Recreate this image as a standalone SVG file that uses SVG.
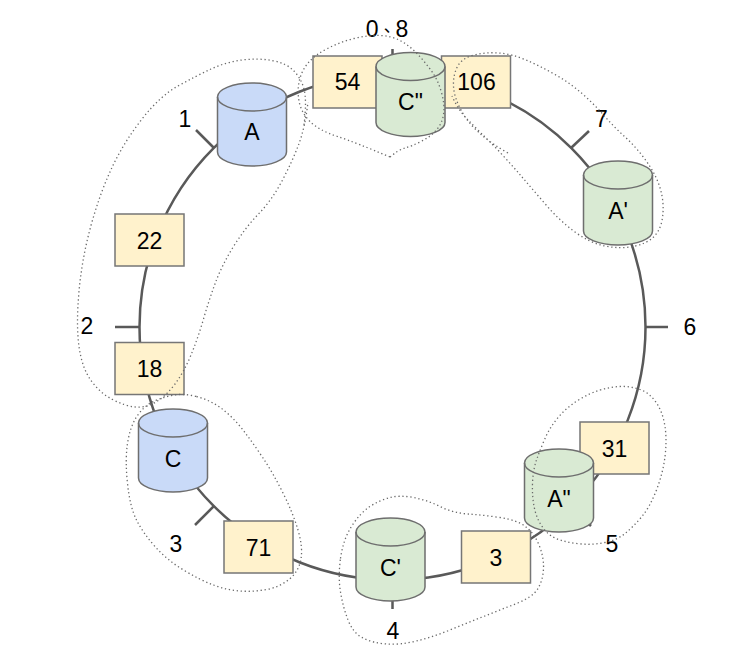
<svg xmlns="http://www.w3.org/2000/svg" width="750" height="658" viewBox="0 0 750 658">
<style>
.ring{fill:none;stroke:#595959;stroke-width:2.5}
.tick{stroke:#595959;stroke-width:2.5;fill:none}
.box{fill:#fff2cc;stroke:#767676;stroke-width:1.5}
.cyl{stroke:#6e6e6e;stroke-width:1.5}
.rim{fill:none;stroke:#6e6e6e;stroke-width:1.5}
.blue{fill:#c9daf8}
.green{fill:#d9ead3}
.t{font-family:"Liberation Sans",Arial,"Noto Sans CJK TC",sans-serif;font-size:23px;fill:#000;text-anchor:middle}
.grp{fill:none;stroke:#6a6a6a;stroke-width:1.3;stroke-dasharray:1.3 2.7}
</style>
<rect width="750" height="658" fill="#ffffff"/>
<g id="connectors">
<circle class="ring" cx="392.5" cy="327" r="253"/>
<line class="tick" x1="392.5" y1="74" x2="392.5" y2="49"/>
<line class="tick" x1="214" y1="148" x2="196" y2="130"/>
<line class="tick" x1="140" y1="327" x2="115" y2="327"/>
<line class="tick" x1="214" y1="506" x2="195" y2="525"/>
<line class="tick" x1="392.5" y1="580" x2="392.5" y2="609"/>
<line class="tick" x1="571" y1="506" x2="591" y2="526"/>
<line class="tick" x1="645" y1="327" x2="668" y2="327"/>
<line class="tick" x1="571" y1="148" x2="589" y2="131"/>
</g>
<g id="labels">
<text class="t" x="387" y="37">0<tspan font-size="17">、</tspan>8</text>
<text class="t" x="185" y="127">1</text>
<text class="t" x="87" y="334">2</text>
<text class="t" x="176" y="552">3</text>
<text class="t" x="393" y="639">4</text>
<text class="t" x="612" y="552">5</text>
<text class="t" x="690" y="335">6</text>
<text class="t" x="601.5" y="127">7</text>
</g>
<g id="box22"><rect class="box" x="115" y="214" width="69" height="52"/><text class="t" x="149.5" y="248.5">22</text></g>
<g id="box18"><rect class="box" x="115" y="342.5" width="69" height="52"/><text class="t" x="149.5" y="377">18</text></g>
<g id="box71"><rect class="box" x="224" y="521" width="69" height="52"/><text class="t" x="258.5" y="555.5">71</text></g>
<g id="box3"><rect class="box" x="461.5" y="531" width="69" height="52"/><text class="t" x="496" y="565.5">3</text></g>
<g id="box31"><rect class="box" x="580" y="422" width="69" height="52"/><text class="t" x="614.5" y="456.5">31</text></g>
<g id="box54"><rect class="box" x="313" y="56" width="69" height="52"/><text class="t" x="347.5" y="90">54</text></g>
<g id="box106"><rect class="box" x="441.5" y="56" width="69" height="52"/><text class="t" x="476.5" y="90">106</text></g>
<g id="nodeA">
<path class="cyl blue" d="M217.5,97 A34.5,14 0 0 1 286.5,97 V152 A34.5,14 0 0 1 217.5,152 Z"/>
<path class="rim" d="M217.5,97 A34.5,14 0 0 0 286.5,97"/>
<text class="t" x="252" y="140">A</text>
</g>
<g id="nodeC">
<path class="cyl blue" d="M138.5,423 A34.5,14 0 0 1 207.5,423 V478 A34.5,14 0 0 1 138.5,478 Z"/>
<path class="rim" d="M138.5,423 A34.5,14 0 0 0 207.5,423"/>
<text class="t" x="173" y="466.5">C</text>
</g>
<g id="nodeC2">
<path class="cyl green" d="M356,532 A34.5,14 0 0 1 425,532 V587 A34.5,14 0 0 1 356,587 Z"/>
<path class="rim" d="M356,532 A34.5,14 0 0 0 425,532"/>
<text class="t" x="390.5" y="575.5">C'</text>
</g>
<g id="nodeA3">
<path class="cyl green" d="M524.5,463 A34.5,14 0 0 1 593.5,463 V518 A34.5,14 0 0 1 524.5,518 Z"/>
<path class="rim" d="M524.5,463 A34.5,14 0 0 0 593.5,463"/>
<text class="t" x="559" y="506.5">A"</text>
</g>
<g id="nodeA2">
<path class="cyl green" d="M583.5,175 A34.5,14 0 0 1 652.5,175 V231 A34.5,14 0 0 1 583.5,231 Z"/>
<path class="rim" d="M583.5,175 A34.5,14 0 0 0 652.5,175"/>
<text class="t" x="618" y="218.5">A'</text>
</g>
<g id="nodeC3">
<path class="cyl green" d="M376,66.5 A34.5,14 0 0 1 445,66.5 V122.5 A34.5,14 0 0 1 376,122.5 Z"/>
<path class="rim" d="M376,66.5 A34.5,14 0 0 0 445,66.5"/>
<text class="t" x="410.5" y="110">C"</text>
</g>
<g id="groups">
<path class="grp" d="M304,125 Q307,100 304,89 Q301,78 293.5,70.5 Q286,63 272,60.5 Q258,58 242,60 Q226,62 211,69 Q196,76 178,86 Q160,96 142,119 Q124,142 112,167.5 Q100,193 91,225.5 Q82,258 79,291.5 Q76,325 79,346.5 Q82,368 91,380.5 Q100,393 112.5,399.5 Q125,406 135.5,407 Q146,408 156,402 Q166,396 175,384 Q184,372 191,355 Q198,338 203.5,319 Q209,300 215.5,282.5 Q222,265 233.5,246.5 Q245,228 258.5,214 Q272,200 282,181 Q292,162 298.5,145 Q305,128 308,102"/>
<path class="grp" d="M390,157 Q357,143 337.5,136.5 Q318,130 309.5,121 Q301,112 299,101 Q297,90 299.5,80 Q302,70 308.5,62.5 Q315,55 327.5,48.5 Q340,42 354,38.5 Q368,35 380,35.5 Q392,36 401,41 Q410,46 417.5,54 Q425,62 431.5,71 Q438,80 441.5,92.5 Q445,105 443.5,114.5 Q442,124 436,130.5 Q430,137 421,141.5 Q412,146 405,148 Q398,150 390,157"/>
<path class="grp" d="M508,153 Q490,143 479,132.5 Q468,123 461,110 Q454,97 453.5,86 Q453,75 457.5,66.5 Q462,58 474,55 Q486,52 499,53 Q512,54 526,60 Q540,66 555,74.5 Q570,83 582,93.5 Q594,104 604,115.5 Q614,127 624,136 Q634,145 642.5,156 Q651,167 656,177.5 Q661,188 662.5,199 Q664,210 662,220.5 Q660,231 653,237.5 Q646,244 633,246.5 Q620,249 605,246 Q590,243 575,232 Q560,221 547,206 Q534,191 522,177 Q510,163 496,148 Q480,132 468,120 Q458,110 452,96"/>
<path class="grp" d="M196.5,396.5 Q210,400 221.5,408.5 Q233,417 243,430 Q253,443 263,458 Q273,473 283,493 Q293,513 298,530 Q303,547 301,559 Q299,571 289.5,579 Q280,587 266.5,589.5 Q253,592 240,591 Q227,590 213.5,585 Q200,580 183.5,570 Q167,560 155,546.5 Q143,533 136.5,520 Q130,507 127.5,483.5 Q125,460 127.5,443.5 Q130,427 136.5,417 Q143,407 151.5,402.5 Q160,398 171.5,395.5 Q183,393 196.5,396.5 Z"/>
<path class="grp" d="M340.5,558.5 Q343,540 351.5,526.5 Q360,513 370,506.5 Q380,500 390,497.5 Q400,495 413.5,497.5 Q427,500 440,506.5 Q453,513 468,514 Q483,515 500,517.5 Q517,520 525.5,526.5 Q534,533 539,545 Q544,557 543.5,568.5 Q543,580 538,588.5 Q533,597 516.5,603.5 Q500,610 483.5,616.5 Q467,623 450,630 Q433,637 416.5,641 Q400,645 386.5,644 Q373,643 363,638 Q353,633 348,620 Q343,607 340.5,592 Q338,577 340.5,558.5 Z"/>
<path class="grp" d="M600,390 Q610,387 620,386.5 Q630,386 640,389.5 Q650,393 656.5,403 Q663,413 665,426.5 Q667,440 665,456.5 Q663,473 656.5,490 Q650,507 641.5,517 Q633,527 625,533.5 Q617,540 605,542.5 Q593,545 581.5,544 Q570,543 560,540 Q550,537 543.5,528.5 Q537,520 534.5,508.5 Q532,497 532.5,483.5 Q533,470 536.5,460 Q540,450 545,438.5 Q550,427 558.5,417 Q567,407 578.5,400 Q590,393 600,390 Z"/>
</g>
</svg>
